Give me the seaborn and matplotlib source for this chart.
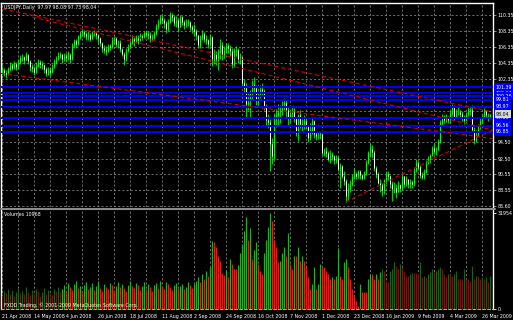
import numpy as np
import pandas as pd
import matplotlib
matplotlib.use("Agg")
import matplotlib.pyplot as plt
from matplotlib.lines import Line2D
from matplotlib.transforms import blended_transform_factory
import seaborn as sns

# ---------------- data ----------------
title_text = "USDJPY,Daily  97.97 98.08 97.73 98.04"
volume_title = "Volumes 10968"
copyright_text = "FXDD Trading, \u00a9 2001-2009 MetaQuotes Software Corp."

first_open = 103.3
close = [
    103.5, 103.2, 103.0, 103.6, 104.1,  103.8, 104.2, 103.9, 104.5, 105.1,
    105.1, 104.8, 105.4, 104.6, 103.9,  103.8, 103.3, 104.0, 104.5, 104.3,
    104.1, 103.6, 103.2, 103.5, 103.3,  103.9, 104.5, 104.9, 105.3, 105.5,
    104.9, 105.2, 105.0, 105.4, 104.9,  106.6, 107.1, 106.8, 107.6, 108.1,
    108.2, 108.0, 107.7, 107.9, 107.4,  108.0, 108.1, 107.8, 107.5, 106.9,
    106.2, 106.0, 105.9, 106.5, 106.4,  107.3, 107.5, 106.8, 106.9, 106.1,
    105.5, 104.9, 105.9, 106.4, 106.9,  107.4, 107.0, 107.5, 107.2, 107.7,
    107.6, 108.1, 108.0, 107.9, 107.5,  107.6, 108.1, 108.9, 109.4, 110.0,
    109.7, 109.3, 108.6, 109.5, 110.4,  110.1, 109.3, 109.7, 108.9, 110.1,
    109.5, 109.1, 109.4, 109.5, 108.8,  108.6, 108.4, 107.8, 106.6, 107.5,
    108.0, 107.4, 107.2, 106.7, 107.6,  104.9, 105.5, 104.9, 105.7, 106.6,
    105.4, 106.0, 106.5, 106.2, 105.9,  104.3, 105.9, 106.0, 104.9, 105.1,
    101.9, 101.3, 99.3, 99.6, 100.5,    101.6, 101.3, 99.9, 100.5, 101.2,
    100.9, 99.0, 97.3, 97.0, 94.3,      92.8, 97.6, 97.9, 98.4, 98.5,
    98.9, 99.4, 98.5, 97.5, 98.1,       98.3, 97.6, 95.7, 97.9, 96.8,
    96.5, 97.2, 96.6, 95.0, 95.8,       97.2, 95.6, 95.3, 95.4, 95.5,
    93.2, 93.4, 93.2, 92.5, 93.0,       92.8, 92.3, 92.6, 91.2, 91.6,
    90.3, 89.7, 87.9, 88.9, 89.3,       90.2, 90.6, 90.3, 90.9,
    90.4, 90.1, 90.7, 92.0,             93.2, 93.7, 93.3, 91.3, 90.6,
    89.5, 89.2, 88.6, 89.8, 90.6,       90.3, 89.4, 88.7, 88.9, 88.4,
    89.2, 88.8, 90.3, 89.4, 89.9,       89.3, 89.6, 89.3, 91.1, 91.9,
    91.5, 90.4, 90.2, 90.8, 91.9,       92.4, 92.9, 93.8, 93.5, 93.6,
    94.6, 96.9, 97.6, 97.3, 97.7,       97.3, 98.2, 98.9, 97.7, 98.3,
    98.3, 98.1, 97.6, 97.3, 98.1,       98.4, 98.6, 96.1, 94.8, 95.5,
    96.5, 97.2, 97.7, 98.4, 97.9,       97.97, 98.04,
]
high = [
    104.0, 103.8, 103.5, 103.9, 104.5,  104.4, 104.6, 104.5, 104.9, 105.4,
    105.5, 105.3, 105.7, 105.5, 104.7,  104.3, 104.0, 104.5, 104.9, 104.8,
    104.6, 104.3, 103.9, 103.9, 103.9,  104.3, 104.9, 105.3, 105.7, 105.8,
    105.5, 105.6, 105.6, 105.9, 105.6,  106.9, 107.4, 107.4, 107.9, 108.4,
    108.6, 108.5, 108.2, 108.3, 108.1,  108.3, 108.5, 108.4, 108.0, 107.6,
    107.0, 106.6, 106.5, 106.8, 106.8,  107.6, 107.9, 107.6, 107.3, 107.2,
    106.2, 105.8, 106.3, 106.8, 107.3,  107.8, 107.6, 107.9, 107.8, 108.1,
    108.0, 108.3, 108.4, 108.3, 108.2,  108.0, 108.4, 109.2, 109.8, 110.3,
    110.4, 110.0, 109.6, 109.9, 110.7,  110.6, 110.4, 110.2, 109.9, 110.4,
    110.2, 109.7, 109.8, 109.9, 109.6,  109.1, 109.2, 108.6, 107.9, 107.8,
    108.5, 108.2, 107.8, 107.4, 108.0,  107.7, 106.1, 105.9, 106.1, 107.4,
    107.0, 106.5, 106.9, 106.9, 106.6,  106.2, 106.3, 106.5, 106.2, 105.6,
    105.1, 102.4, 101.9, 100.7, 101.0,  102.3, 102.6, 101.6, 100.9, 101.7,
    101.9, 101.1, 99.3, 98.0, 97.4,     95.0, 98.1, 98.7, 99.3, 99.2,
    99.6, 100.0, 99.8, 98.9, 98.6,      98.9, 98.8, 97.7, 98.1, 98.5,
    97.4, 97.9, 97.6, 96.7, 96.9,       97.7, 97.3, 95.9, 95.8, 95.9,
    95.7, 93.8, 93.9, 93.4, 93.6,       93.3, 93.0, 92.9, 92.8, 91.9,
    91.7, 91.0, 89.9, 89.5, 89.8,       90.6, 91.3, 90.8, 91.1,
    91.1, 90.6, 91.0, 92.3,             93.5, 94.4, 94.2, 93.6, 91.6,
    90.8, 89.9, 89.5, 90.0, 91.0,       90.9, 90.5, 89.7, 89.6, 89.3,
    89.7, 89.4, 90.6, 90.1, 90.3,       89.9, 90.0, 89.8, 91.4, 92.4,
    92.2, 91.7, 90.8, 91.2, 92.3,       92.8, 93.1, 94.1, 94.4, 94.0,
    94.9, 97.3, 98.1, 97.9, 98.0,       97.8, 98.6, 99.3, 99.1, 98.7,
    98.9, 98.6, 98.4, 97.9, 98.3,       98.9, 99.0, 99.2, 96.4, 96.0,
    96.8, 97.5, 98.1, 98.8, 98.6,       98.2, 98.08,
]
low = [
    103.0, 102.8, 102.5, 102.9, 103.4,  103.5, 103.6, 103.5, 103.8, 104.3,
    104.6, 104.3, 104.7, 104.2, 103.4,  103.3, 102.9, 103.2, 103.9, 103.8,
    103.6, 103.2, 102.8, 102.9, 102.8,  103.2, 103.8, 104.3, 104.7, 105.0,
    104.4, 104.6, 104.5, 104.8, 104.4,  104.8, 106.3, 106.2, 106.6, 107.4,
    107.7, 107.6, 107.2, 107.3, 107.1,  107.5, 107.7, 107.4, 106.9, 106.5,
    105.8, 105.6, 105.4, 105.7, 106.0,  106.3, 106.8, 106.4, 106.3, 105.8,
    105.2, 104.1, 104.6, 105.7, 106.2,  106.8, 106.5, 106.9, 106.8, 107.1,
    107.2, 107.5, 107.6, 107.4, 107.0,  107.1, 107.4, 107.9, 108.6, 109.2,
    109.3, 108.7, 108.1, 108.4, 109.3,  109.6, 109.0, 108.9, 108.4, 108.8,
    109.1, 108.6, 108.8, 109.0, 108.5,  108.1, 107.7, 107.3, 106.2, 106.3,
    107.2, 107.0, 106.7, 106.2, 106.5,  104.0, 104.3, 104.1, 103.5, 104.9,
    104.8, 105.0, 105.6, 105.6, 105.3,  103.8, 103.9, 105.3, 104.4, 104.2,
    101.5, 100.6, 97.7, 98.6, 97.6,     99.8, 100.6, 99.2, 99.1, 100.0,
    100.3, 98.6, 96.7, 96.3, 90.9,      91.8, 92.4, 96.4, 96.6, 96.9,
    97.9, 98.5, 97.6, 96.6, 97.0,       97.6, 97.1, 95.3, 94.7, 96.3,
    95.9, 96.2, 96.2, 94.6, 94.8,       95.6, 95.1, 94.8, 94.9, 94.9,
    92.9, 92.8, 92.7, 92.2, 92.0,       92.3, 91.8, 91.9, 91.0, 88.8,
    90.1, 89.2, 87.1, 87.4, 88.4,       89.1, 89.9, 90.0, 90.1,
    90.0, 89.8, 90.0, 90.5,             91.8, 92.8, 92.6, 90.9, 90.1,
    89.3, 88.4, 87.8, 88.1, 89.4,       89.8, 88.9, 87.2, 88.2, 87.6,
    88.3, 88.3, 88.6, 89.0, 89.1,       88.9, 88.9, 88.9, 89.1, 90.8,
    91.1, 90.1, 89.9, 89.9, 90.7,       91.8, 92.0, 92.8, 93.1, 92.9,
    93.6, 94.4, 96.5, 96.9, 97.0,       96.9, 97.0, 97.8, 97.3, 97.5,
    97.9, 97.5, 97.2, 96.8, 97.2,       97.8, 97.9, 95.9, 94.3, 94.6,
    95.3, 96.2, 96.9, 97.5, 97.6,       97.2, 97.73,
]
# tick volume, thousands
volume_k = [
    4.7, 6.0, 5.4, 6.7, 5.0, 6.4, 4.4, 5.7, 7.1, 5.4, 6.0, 5.0, 7.4, 5.7, 4.7,
    6.4, 5.4, 6.7, 6.0, 4.4, 5.7, 7.1, 5.0, 6.4, 5.4, 4.7, 6.7, 6.0, 7.4, 5.7,
    6.7, 8.1, 6.0, 8.7, 7.4, 6.4, 8.4, 9.4, 7.1, 7.7, 5.7, 8.1, 9.1, 6.7, 7.4,
    8.7, 6.4, 7.7, 9.4, 7.1, 6.0, 8.4, 7.4, 6.7, 8.7, 8.1, 6.4, 7.7, 9.1, 7.4,
    8.4, 7.1, 6.0, 8.1, 9.4, 7.7,
    7.1, 8.7, 8.1, 6.4, 7.7, 9.1, 6.7, 8.4, 7.4, 6.0, 8.1, 8.7, 7.1, 9.4, 7.7,
    6.7, 9.1, 8.4, 7.4, 6.4, 8.1, 8.7, 7.1, 7.7, 8.4, 6.7, 7.4, 9.1, 8.1, 7.1,
    8.4, 9.4, 10.8, 9.1, 11.8, 10.1, 12.8, 11.1, 14.1,
    22.5, 22.2, 20.8, 17.5, 16.1,
    12.1, 11.4, 12.8, 10.8, 16.8, 15.1, 13.4,
    13.4, 14.8, 18.5, 21.5, 25.9, 30.6, 22.8, 26.9, 16.8, 19.5, 22.2, 15.1, 12.8,
    11.8, 18.5, 22.8, 27.2, 31.9, 29.2, 22.8, 20.8, 15.8, 16.1,
    18.5, 20.8, 17.8, 25.2, 15.1, 13.4, 17.8, 17.5, 20.8, 16.1,
    17.5, 16.1, 14.1, 10.8, 6.7, 8.4, 14.1, 6.7, 8.4, 15.1,
    14.1, 14.1, 12.8, 11.8, 10.1, 10.8, 10.1, 11.1, 20.2, 11.1,
    10.1, 15.8, 16.8, 14.1, 10.1, 6.7, 4.4, 2.7, 1.0,
    8.4, 5.7, 5.7, 5.7, 10.1, 11.8, 11.8, 10.1, 11.8, 10.1, 12.4, 13.4,
    12.8, 9.4, 9.1, 12.8, 13.4, 15.8, 14.4, 13.4, 15.1, 14.1,
    12.8, 11.1, 11.1, 11.8, 12.1, 12.1, 12.1, 12.1, 15.8, 10.8,
    11.1, 10.8, 11.8, 12.4, 13.4, 12.4, 12.8, 13.4, 14.1, 13.4,
    11.8, 10.8, 11.8, 11.8, 11.1, 11.8, 12.8, 10.1, 10.1, 10.1,
    13.4, 10.1, 10.1, 9.4, 14.4, 10.1, 11.1, 11.1, 10.1, 10.8,
    10.1, 10.8, 9.1, 10.968,
]
date_labels = ["21 Apr 2008", "14 May 2008", "4 Jun 2008", "26 Jun 2008",
               "18 Jul 2008", "11 Aug 2008", "2 Sep 2008", "24 Sep 2008",
               "16 Oct 2008", "7 Nov 2008", "1 Dec 2008", "23 Dec 2008",
               "16 Jan 2009", "9 Feb 2009", "4 Mar 2009", "26 Mar 2009"]
grid_prices = [110.35, 108.35, 106.35, 104.35, 102.35, 100.40, 98.45,
               96.50, 94.50, 92.50, 90.55, 88.55, 86.60]
label_prices = [110.35, 108.35, 106.35, 104.35, 102.35,
                94.50, 92.50, 90.55, 88.55, 86.60]
level_prices = [101.39, 100.64, 100.26, 99.81, 98.97, 97.56, 96.56, 95.85]
# trend lines: (bar0, price0) -> (bar1, price1)
trend_start_bar = [0.5, 15.5, -0.5, 172.0]
trend_start_price = [111.1, 110.1, 103.1, 87.1]
trend_end_bar = [245.5, 245.5, 245.5, 245.5]
trend_end_price = [98.3, 96.05, 95.0, 96.05]
volume_top_label = "31954"

assert len(close) == len(high) == len(low) == len(volume_k)

# ---------------- styling ----------------
sns.set_theme(style="dark")
plt.rcParams["font.family"] = ["DejaVu Sans"]
plt.rcParams["lines.scale_dashes"] = False
FS = 3.4

W, H = 513, 320
fig = plt.figure(figsize=(W / 100, H / 100), dpi=100, facecolor="black")


def rect(x0, y0, x1, y1):
    return [x0 / W, 1 - y1 / H, (x1 - x0) / W, (y1 - y0) / H]


ax = fig.add_axes(rect(1, 3, 493, 207))
axv = fig.add_axes(rect(1, 210, 493, 309))
for a in (ax, axv):
    a.set_facecolor("black")
    a.grid(False)

n = len(close)
df = pd.DataFrame({
    "bar": np.arange(n),
    "open": [first_open] + close[:-1],
    "high": high, "low": low, "close": close,
    "volume": np.array(volume_k) * 1000.0,
})
df["high"] = df[["high", "open", "close"]].max(axis=1)
df["low"] = df[["low", "open", "close"]].min(axis=1)

XL = (-0.25, 245.75)
GRID = "#8c8c8c"
dots = (0, (1.5, 1.5))

# grid
for b in range(0, 246, 8):
    ax.axvline(b, color=GRID, lw=0.55, ls=dots, zorder=1)
    axv.axvline(b, color=GRID, lw=0.55, ls=dots, zorder=1)
for p in grid_prices:
    ax.axhline(p, color=GRID, lw=0.55, ls=dots, zorder=1)

# candles: wick + body drawn as vertical segments
ax.vlines(df["bar"], df["low"], df["high"], colors="#00ff00", lw=0.6, zorder=3)
body_top = df[["open", "close"]].max(axis=1)
body_bot = df[["open", "close"]].min(axis=1)
bear = (df["close"] < df["open"]).to_numpy()
ax.vlines(df["bar"][bear], body_bot[bear], body_top[bear], colors="white", lw=0.75, zorder=4)
ax.vlines(df["bar"][~bear], body_bot[~bear], body_top[~bear], colors="#00ff00", lw=0.75, zorder=4)

# horizontal levels
for p in level_prices:
    ax.axhline(p, color="#0000ff", lw=1.4, zorder=5)

# trend lines (seaborn, one unit per line)
trend_df = pd.DataFrame({
    "line": [0, 1, 2, 3] * 2,
    "bar": trend_start_bar + trend_end_bar,
    "price": trend_start_price + trend_end_price,
})
sns.lineplot(data=trend_df, x="bar", y="price", units="line", estimator=None,
             color="#d00000", lw=0.8, linestyle=(0, (3, 2)), sort=True,
             legend=False, ax=ax, zorder=5)
ax.set_xlabel("")
ax.set_ylabel("")

ax.set_xlim(*XL)
ax.set_ylim(86.48, 111.84)
ax.yaxis.tick_right()
ax.set_yticks(label_prices)
ax.set_yticklabels([f"{p:.2f}" for p in label_prices])
ax.tick_params(axis="y", colors="white", labelsize=FS, length=2, width=0.6, pad=1.2)
ax.tick_params(axis="y", which="both", color="#a0a0a0")
ax.set_xticks([])
for s in ("left", "top", "right"):
    ax.spines[s].set_color("white")
    ax.spines[s].set_linewidth(1.0)
ax.spines["bottom"].set_visible(False)

tr = blended_transform_factory(ax.transAxes, ax.transData)
for p in level_prices:
    ax.text(1.006, p, f"{p:.2f}", transform=tr, fontsize=FS, color="white",
            va="center", ha="left", clip_on=False, zorder=10,
            bbox=dict(boxstyle="square,pad=0.32", fc="#0000ff", ec="none"))
ax.text(1.006, close[-1], f"{close[-1]:.2f}", transform=tr, fontsize=FS, color="black",
        va="center", ha="left", clip_on=False, zorder=11,
        bbox=dict(boxstyle="square,pad=0.25", fc="#d8d8d8", ec="none"))

# volume histogram (green when volume rises, red when it falls)
prev = df["volume"].shift(1).fillna(df["volume"].iloc[0])
rising = (df["volume"] > prev).to_numpy()
dim = ((df["bar"] < 30) | (df["bar"] >= 190)).to_numpy()
vcolors = [("#176017" if d else "#22b022") if r else ("#701515" if d else "#e81c1c")
           for r, d in zip(rising, dim)]
axv.vlines(df["bar"].to_numpy(), 0, df["volume"].to_numpy(), colors=vcolors,
           lw=0.85, zorder=3)
axv.set_xlim(*XL)
axv.set_ylim(0, 32950)
axv.yaxis.tick_right()
axv.set_yticks([0, 31954])
axv.set_yticklabels(["0", volume_top_label])
axv.tick_params(axis="y", colors="white", labelsize=FS, length=2, width=0.6, pad=1.2)
ticks = list(range(0, 241, 16))
axv.set_xticks(ticks)
axv.set_xticklabels(date_labels, ha="left")
axv.tick_params(axis="x", colors="white", labelsize=FS, length=2, width=0.6, pad=1.5)
for s in ("left", "right"):
    axv.spines[s].set_color("white")
    axv.spines[s].set_linewidth(1.0)
axv.spines["top"].set_visible(False)
axv.spines["bottom"].set_color("#b0b0b0")
axv.spines["bottom"].set_linestyle((0, (2, 1.5)))
axv.spines["bottom"].set_linewidth(0.7)

# separator and texts
fig.add_artist(Line2D([1 / W, 495 / W], [1 - 208.5 / H] * 2, color="#8a8a8a", lw=1.5))
fig.text(4 / W, 1 - 8 / H, title_text, fontsize=FS, color="white", va="center", ha="left")
fig.text(4 / W, 1 - 215 / H, volume_title, fontsize=FS, color="white", va="center", ha="left")
fig.text(4 / W, 1 - 305 / H, copyright_text, fontsize=FS, color="white", va="center", ha="left")

fig.savefig("out.png", dpi=100, facecolor="black")
